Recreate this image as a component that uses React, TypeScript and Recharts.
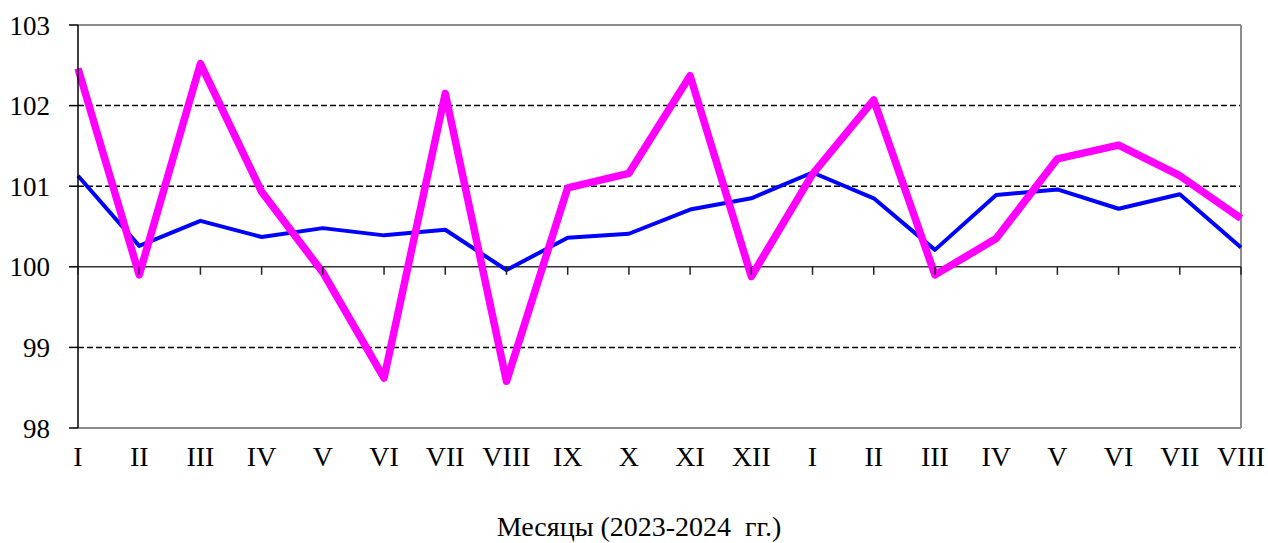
import { LineChart, Line, XAxis, YAxis, ReferenceLine, ReferenceDot } from "recharts";

const months = ["I","II","III","IV","V","VI","VII","VIII","IX","X","XI","XII","I","II","III","IV","V","VI","VII","VIII"];
const blueSeries = [101.13,100.26,100.57,100.37,100.48,100.39,100.46,99.96,100.36,100.41,100.71,100.85,101.17,100.85,100.21,100.89,100.96,100.72,100.9,100.24];
const pinkSeries = [102.46,99.9,102.52,100.93,99.93,98.62,102.15,98.58,100.98,101.16,102.37,99.88,101.15,102.07,99.9,100.35,101.34,101.51,101.13,100.6];
const yTicks = [98,99,100,101,102,103];
const dashedLevels = [99,101,102];

const data = months.map((m, i) => ({ idx: i, month: m, blue: blueSeries[i], pink: pinkSeries[i] }));
const xTicks = months.map((_, i) => i);

const font = "'Liberation Serif', 'Times New Roman', serif";

// short downward tick on the 100 line
const TickMark = (p: any) => (
  <line x1={p.cx} y1={p.cy} x2={p.cx} y2={p.cy + 8} stroke="#222" strokeWidth={1.5} />
);

export default function App() {
  return (
    <div style={{ position:"absolute",left:0,top:0,width:1268,height:543,background:"#fff",fontFamily:font }}>
      <LineChart width={1268} height={543} data={data} margin={{ top:25,right:27,left:0,bottom:0 }}>
        {dashedLevels.map(v => (
          <ReferenceLine key={"g"+v} y={v} stroke="#000" strokeWidth={1.5} strokeDasharray="6 3" />
        ))}
        <ReferenceLine y={103} stroke="#8c8c8c" strokeWidth={2} />
        <ReferenceLine y={98} stroke="#8c8c8c" strokeWidth={2} />
        <ReferenceLine x={19} stroke="#8c8c8c" strokeWidth={2} />
        <ReferenceLine y={100} stroke="#333" strokeWidth={1.5} />
        {xTicks.map(i => (
          <ReferenceDot key={"t"+i} x={i} y={100} r={1} shape={TickMark} ifOverflow="visible" />
        ))}
        <XAxis dataKey="idx" type="number" domain={[0,19]} ticks={xTicks} interval={0}
          tickFormatter={(i: number) => months[i]} axisLine={false} tickLine={false}
          tickSize={8} tickMargin={10} height={115}
          tick={{ fontSize:28,fill:"#000",fontFamily:font }} />
        <YAxis domain={[98,103]} ticks={yTicks} width={78} interval={0}
          axisLine={{ stroke:"#000",strokeWidth:1.5 }} tickLine={{ stroke:"#000",strokeWidth:1.5 }}
          tickSize={9} tickMargin={19}
          tick={{ fontSize:27,fill:"#000",fontFamily:font }} />
        <Line type="linear" dataKey="blue" stroke="#0000ff" strokeWidth={4} dot={false} strokeLinejoin="round" isAnimationActive={false} />
        <Line type="linear" dataKey="pink" stroke="#ff00ff" strokeWidth={7.5} dot={false} strokeLinejoin="round" isAnimationActive={false} />
      </LineChart>
      <div style={{ position:"absolute",left:0,top:513,width:1278,textAlign:"center",fontSize:28,lineHeight:"28px",whiteSpace:"pre",color:"#000" }}>
        Месяцы (2023-2024  гг.)
      </div>
    </div>
  );
}
